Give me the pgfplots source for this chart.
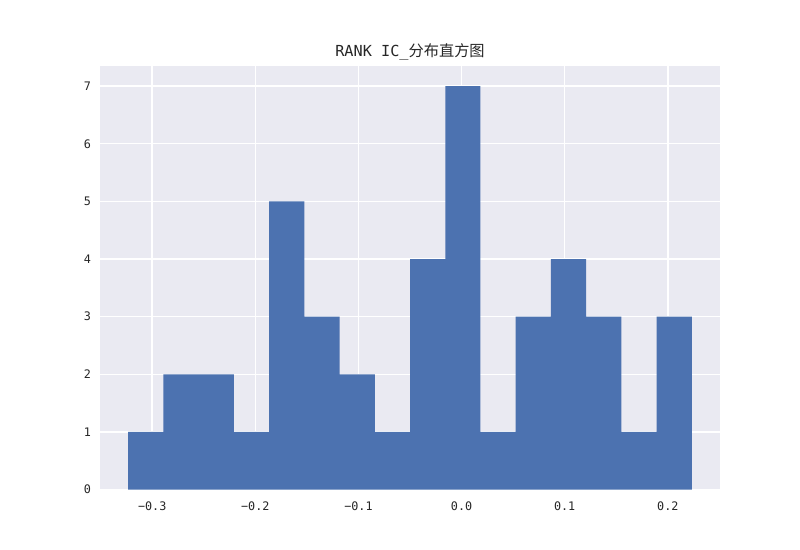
\documentclass[border=0pt]{standalone}
\usepackage{pgfplots}
\pgfplotsset{compat=1.18}
\usepackage{fontspec}
\setmainfont{DejaVu Sans Mono}
\newfontfamily\cjk{Noto Sans CJK SC}
\definecolor{bgc}{HTML}{EAEAF2}
\definecolor{barc}{HTML}{4C72B0}
\definecolor{txt}{HTML}{262626}
\begin{document}
\begin{tikzpicture}[x=1pt,y=1pt]
\path[use as bounding box] (-72.27,-43.72) rectangle (505.89,353.76);
\begin{axis}[
  at={(0,0)}, anchor=south west,
  scale only axis, width=448.07pt, height=306.06pt,
  xmin=-0.3506, xmax=0.2506, ymin=0, ymax=7.35,
  axis background/.style={fill=bgc},
  axis line style={draw=none},
  tick style={draw=none},
  grid=major, grid style={white, line width=1pt},
  xtick={-0.3,-0.2,-0.1,0,0.1,0.2},
  xticklabels={−0.3,−0.2,−0.1,0.0,0.1,0.2},
  ytick={0,1,2,3,4,5,6,7},
  yticklabels={0,1,2,3,4,5,6,7},
  ticklabel style={font=\fontsize{8.5}{9}\selectfont, text=txt},
  xticklabel style={yshift=-5pt},
  yticklabel style={xshift=-3pt},
  title={\fontsize{11}{13}\selectfont RANK IC\_{\cjk 分布直方图}},
  title style={yshift=-5pt, text=txt},
]
\addplot[ybar interval, fill=barc, draw=none] coordinates {
(-0.3233,1) (-0.28914,2) (-0.25497,2) (-0.22081,1) (-0.18664,5) (-0.15248,3)
(-0.11831,2) (-0.08415,1) (-0.04998,4) (-0.01582,7) (0.01835,1) (0.05251,3)
(0.08668,4) (0.12084,3) (0.15501,1) (0.18917,3) (0.2233,3)
};
\end{axis}
\end{tikzpicture}
\end{document}
